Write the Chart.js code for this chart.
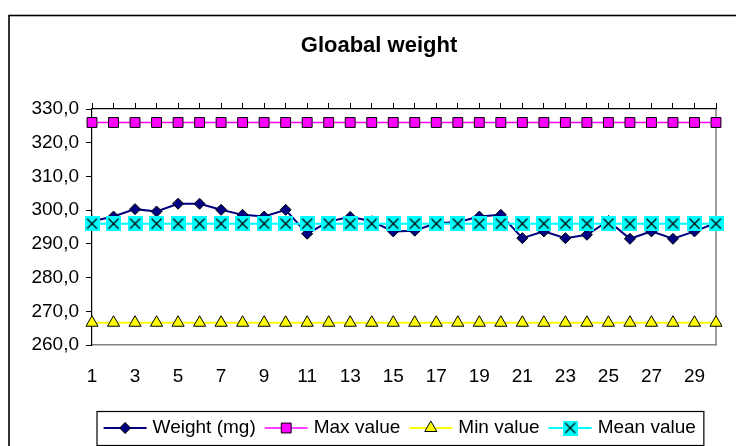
<!DOCTYPE html>
<html>
<head>
<meta charset="utf-8">
<script src="https://cdn.jsdelivr.net/npm/chart.js@4/dist/chart.umd.min.js"></script>
<style>
  html, body { margin: 0; padding: 0; background: #fff; }
  #wrap { width: 736px; height: 446px; position: relative; }
</style>
</head>
<body>
<div id="wrap"><canvas id="c" width="736" height="446"></canvas></div>
<script>
// ---- data ----
const chartTitle = "Gloabal weight";
const categories = [1,2,3,4,5,6,7,8,9,10,11,12,13,14,15,16,17,18,19,20,21,22,23,24,25,26,27,28,29,30];
const weightValues = [296.7, 298.1, 300.3, 299.6, 301.9, 301.9, 300.1, 298.6, 298.1, 300.1,
                      293.0, 296.6, 298.0, 296.7, 293.7, 293.9, 296.2, 296.4, 298.1, 298.6,
                      291.7, 293.7, 291.7, 292.7, 296.8, 291.5, 293.7, 291.5, 293.7, 296.2];
const maxValues  = categories.map(() => 326.0);
const minValues  = categories.map(() => 266.6);
const meanValues = categories.map(() => 296.0);
const seriesNames = ["Weight (mg)", "Max value", "Min value", "Mean value"];
const yTickMin = 260, yTickMax = 330, yTickStep = 10;

// ---- styling ----
const FONT = "'Liberation Sans', Arial, sans-serif";

function makeMeanMarker(size) {
  const c = document.createElement('canvas');
  c.width = size; c.height = size;
  const g = c.getContext('2d');
  g.fillStyle = '#00FFFF';
  g.fillRect(0, 0, size, size);
  g.strokeStyle = '#000';
  g.lineWidth = 1.3;
  const m = 2.5;
  g.beginPath();
  g.moveTo(m, m); g.lineTo(size - m, size - m);
  g.moveTo(size - m, m); g.lineTo(m, size - m);
  g.stroke();
  return c;
}
const meanMarker = makeMeanMarker(15);

const framePlugin = {
  id: 'frame',
  beforeDraw(chart) {
    const ctx = chart.ctx;
    ctx.save();
    ctx.fillStyle = '#fff';
    ctx.fillRect(0, 0, chart.width, chart.height);
    ctx.restore();
  },
  beforeDatasetsDraw(chart) {
    const { ctx, chartArea: a } = chart;
    ctx.save();
    ctx.strokeStyle = '#808080';
    ctx.lineWidth = 1.5;
    ctx.beginPath();
    ctx.moveTo(a.right, a.top);
    ctx.lineTo(a.right, a.bottom);
    ctx.stroke();
    ctx.restore();
  },
  afterDraw(chart) {
    const ctx = chart.ctx;
    ctx.save();
    // outer chart border
    ctx.strokeStyle = '#000';
    ctx.lineWidth = 1.6;
    ctx.strokeRect(9, 15.5, 760, 460);
    // title
    ctx.fillStyle = '#000';
    ctx.font = "bold 22px " + FONT;
    ctx.textAlign = 'center';
    ctx.textBaseline = 'middle';
    ctx.fillText(chartTitle, 379, 46);

    // legend
    ctx.font = "19px " + FONT;
    ctx.textAlign = 'left';
    const ly = 428;
    let x = 103.6;
    const lineLen = 43, gapText = 6, gapItem = 9;
    chart.data.datasets.forEach((ds, i) => {
      ctx.strokeStyle = ds.borderColor;
      ctx.lineWidth = ds.borderWidth;
      ctx.beginPath();
      ctx.moveTo(x, ly); ctx.lineTo(x + lineLen, ly);
      ctx.stroke();
      const cx = x + lineLen / 2;
      if (Chart.helpers && Chart.helpers.drawPoint) {
        ctx.fillStyle = ds.pointBackgroundColor;
        ctx.strokeStyle = ds.pointBorderColor;
        ctx.lineWidth = ds.pointBorderWidth;
        Chart.helpers.drawPoint(ctx, { pointStyle: ds.pointStyle, rotation: 0, borderWidth: ds.pointBorderWidth, radius: ds.pointRadius }, cx, ly);
      }
      ctx.fillStyle = '#000';
      const tx = x + lineLen + gapText;
      ctx.fillText(ds.label, tx, ly);
      x = tx + ctx.measureText(ds.label).width + gapItem;
    });
    ctx.strokeStyle = '#000';
    ctx.lineWidth = 1.2;
    ctx.strokeRect(97, 411.5, x - 97 - 1, 34);
    ctx.restore();
  }
};

const fmt = v => Number(v).toFixed(1).replace('.', ',');

new Chart(document.getElementById('c'), {
  type: 'line',
  data: {
    labels: categories,
    datasets: [
      {
        label: seriesNames[0], data: weightValues, order: 4,
        borderColor: '#000080', borderWidth: 2,
        pointStyle: 'rectRot', pointRadius: 5.5,
        pointBackgroundColor: '#000080', pointBorderColor: '#000', pointBorderWidth: 1,
        clip: false, tension: 0
      },
      {
        label: seriesNames[1], data: maxValues, order: 3,
        borderColor: '#FF00FF', borderWidth: 1.5,
        pointStyle: 'rect', pointRadius: 7,
        pointBackgroundColor: '#FF00FF', pointBorderColor: '#000', pointBorderWidth: 1,
        clip: false
      },
      {
        label: seriesNames[2], data: minValues, order: 2,
        borderColor: '#FFFF00', borderWidth: 2,
        pointStyle: 'triangle', pointRadius: 7,
        pointBackgroundColor: '#FFFF00', pointBorderColor: '#000', pointBorderWidth: 1,
        clip: false
      },
      {
        label: seriesNames[3], data: meanValues, order: 1,
        borderColor: '#00FFFF', borderWidth: 2,
        pointStyle: meanMarker, pointRadius: 7.5,
        pointBackgroundColor: '#00FFFF', pointBorderColor: '#000', pointBorderWidth: 1,
        clip: false
      }
    ]
  },
  options: {
    responsive: false,
    animation: false,
    events: [],
    layout: { padding: { left: 0, right: 18, top: 103, bottom: 0 } },
    plugins: { legend: { display: false }, title: { display: false }, tooltip: { enabled: false } },
    scales: {
      x: {
        type: 'category', position: 'bottom',
        grid: { display: false, drawTicks: false },
        border: { display: true, color: '#808080', width: 1.5 },
        ticks: {
          autoSkip: false, maxRotation: 0, padding: 20, color: '#000',
          font: { family: FONT, size: 19 },
          callback: function(v, i) { return i % 2 === 0 ? this.getLabelForValue(v) : ''; }
        },
        afterFit: s => { s.height = 101; }
      },
      x2: {
        type: 'category', position: 'top', labels: categories,
        grid: { display: true, drawOnChartArea: false, drawTicks: true, tickLength: 6, color: '#000', lineWidth: 1 },
        border: { display: true, color: '#000', width: 1.2 },
        ticks: { display: false, autoSkip: false },
        afterFit: s => { s.height = 6; }
      },
      y: {
        type: 'linear', position: 'left',
        min: yTickMin, max: yTickMax,
        grid: { display: true, drawOnChartArea: false, drawTicks: true, tickLength: 6, color: '#000', lineWidth: 1 },
        border: { display: true, color: '#000', width: 1.2 },
        ticks: {
          stepSize: yTickStep, padding: 7, color: '#000',
          font: { family: FONT, size: 19 },
          callback: v => fmt(v)
        },
        afterFit: s => { s.width = 92; }
      }
    }
  },
  plugins: [framePlugin]
});
</script>
</body>
</html>
